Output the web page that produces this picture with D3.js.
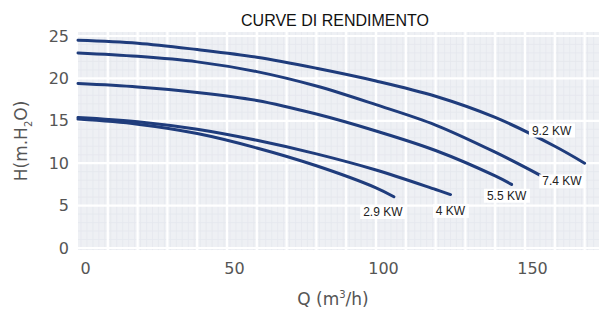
<!DOCTYPE html>
<html>
<head>
<meta charset="utf-8">
<script src="https://cdn.jsdelivr.net/npm/d3@7"></script>
<style>
  body { margin: 0; background: #fff; }
  svg { display: block; }
</style>
</head>
<body>
<svg id="chart" width="599" height="312"></svg>
<script>
// pump curves, Q in m3/h, H in m of water
var curveNames = ['9.2 KW', '7.4 KW', '5.5 KW', '4 KW', '2.9 KW']
var curveQ = [
  [0, 20, 40, 60, 80, 100, 120, 140, 160, 170],
  [0, 20, 40, 60, 80, 100, 120, 140, 155],
  [0, 20, 40, 60, 80, 100, 120, 140, 145.5],
  [0, 20, 40, 60, 80, 100, 120, 125],
  [0, 20, 40, 60, 80, 100, 106]
]
var curveH = [
  [24.5, 24.15, 23.4, 22.5, 21.2, 19.7, 17.9, 15.4, 12.0, 10.0],
  [23.0, 22.6, 21.95, 20.8, 19.1, 16.9, 14.5, 11.3, 8.6],
  [19.4, 19.0, 18.35, 17.4, 15.8, 13.8, 11.5, 8.5, 7.5],
  [15.4, 14.9, 14.0, 12.7, 11.1, 9.2, 6.9, 6.3],
  [15.2, 14.6, 13.5, 11.8, 9.7, 7.1, 6.05]
]
var xTicks = [0, 50, 100, 150]
var yTicks = [0, 5, 10, 15, 20, 25]

// label offsets from the end of each curve (pixels)
var labelShift = [[-33, -33], [22, 6], [-5, 11], [0, 16], [-11, 15]]

var svg = d3.select('#chart')

var x = d3.scaleLinear().domain([0, 170]).range([78, 584.6])
var y = d3.scaleLinear().domain([0, 25]).range([248, 36])

var plot = svg.append('g')

// background with fine grid
plot.append('rect')
  .attr('x', x(0)).attr('y', y(25.47))
  .attr('width', 599 - x(0)).attr('height', y(-0.24) - y(25.47))
  .style('fill', '#eef0f4')

plot.selectAll('.minorx')
  .data(d3.range(1, 175, 2))
  .enter().append('line')
  .attr('x1', function(d){ return x(d) }).attr('x2', function(d){ return x(d) })
  .attr('y1', y(25.47)).attr('y2', y(-0.24))
  .style('stroke', '#e4e7ee').style('stroke-width', 0.8)

plot.selectAll('.minory')
  .data(d3.range(0, 25.5, 1))
  .enter().append('line')
  .attr('x1', x(0)).attr('x2', 599)
  .attr('y1', function(d){ return y(d) }).attr('y2', function(d){ return y(d) })
  .style('stroke', '#e4e7ee').style('stroke-width', 0.8)

plot.selectAll('.gridx')
  .data(d3.range(10, 175, 10))
  .enter().append('line')
  .attr('x1', function(d){ return x(d) }).attr('x2', function(d){ return x(d) })
  .attr('y1', y(25.47)).attr('y2', y(-0.24))
  .style('stroke', '#fff').style('stroke-width', 2.2)

plot.selectAll('.gridy')
  .data(yTicks)
  .enter().append('line')
  .attr('x1', x(0)).attr('x2', 599)
  .attr('y1', function(d){ return y(d) }).attr('y2', function(d){ return y(d) })
  .style('stroke', '#fff').style('stroke-width', 2.2)

// axes (text only)
var xAxis = svg.append('g')
  .attr('transform', 'translate(0,260)')
  .call(d3.axisBottom(x).tickValues(xTicks).tickSize(0).tickPadding(0))
xAxis.select('.domain').remove()
xAxis.selectAll('text')
  .attr('dx', 7).attr('dy', '0.9em')
  .style('font-family', 'DejaVu Sans').style('font-size', '16px').style('fill', '#555')

var yAxis = svg.append('g')
  .attr('transform', 'translate(69,0)')
  .call(d3.axisLeft(y).tickValues(yTicks).tickSize(0).tickPadding(0))
yAxis.select('.domain').remove()
yAxis.selectAll('text')
  .style('font-family', 'DejaVu Sans').style('font-size', '16px').style('fill', '#555')

// curves
var line = d3.line()
  .x(function(d){ return x(d[0]) })
  .y(function(d){ return y(d[1]) })
  .curve(d3.curveCatmullRom.alpha(0.5))

curveNames.forEach(function(name, i){
  var pts = curveQ[i].map(function(q, j){ return [q, curveH[i][j]] })
  plot.append('path')
    .attr('d', line(pts))
    .style('fill', 'none')
    .style('stroke', '#1f3c7c')
    .style('stroke-width', 3)
    .style('stroke-linecap', 'round')
})

// curve labels
curveNames.forEach(function(name, i){
  var n = curveQ[i].length - 1
  var cx = x(curveQ[i][n]) + labelShift[i][0]
  var cy = y(curveH[i][n]) + labelShift[i][1]
  var g = svg.append('g')
  var t = g.append('text')
    .attr('x', cx).attr('y', cy)
    .attr('text-anchor', 'middle').attr('dy', '0.36em')
    .style('font-family', 'Liberation Sans, Arial, sans-serif')
    .style('font-size', '12px').style('fill', '#222')
    .text(name)
  var bb = t.node().getBBox()
  g.insert('rect', 'text')
    .attr('x', bb.x - 3).attr('y', bb.y)
    .attr('width', bb.width + 6).attr('height', bb.height)
    .style('fill', '#fff')
})

// titles
svg.append('text')
  .attr('x', 335).attr('y', 26)
  .attr('text-anchor', 'middle')
  .style('font-family', 'Liberation Sans, Arial, sans-serif')
  .style('font-size', '16px').style('fill', '#111')
  .text('CURVE DI RENDIMENTO')

var xt = svg.append('text')
  .attr('x', 333).attr('y', 305)
  .attr('text-anchor', 'middle')
  .style('font-family', 'DejaVu Sans').style('font-size', '17px').style('fill', '#555')
xt.append('tspan').text('Q (m')
xt.append('tspan').attr('dy', -7).style('font-size', '10px').text('3')
xt.append('tspan').attr('dy', 7).text('/h)')

var yt = svg.append('text')
  .attr('transform', 'translate(27,141) rotate(-90)')
  .attr('text-anchor', 'middle')
  .style('font-family', 'DejaVu Sans').style('font-size', '17px').style('fill', '#555')
yt.append('tspan').text('H(m.H')
yt.append('tspan').attr('dy', 5).style('font-size', '10px').text('2')
yt.append('tspan').attr('dy', -5).text('O)')
</script>
</body>
</html>
